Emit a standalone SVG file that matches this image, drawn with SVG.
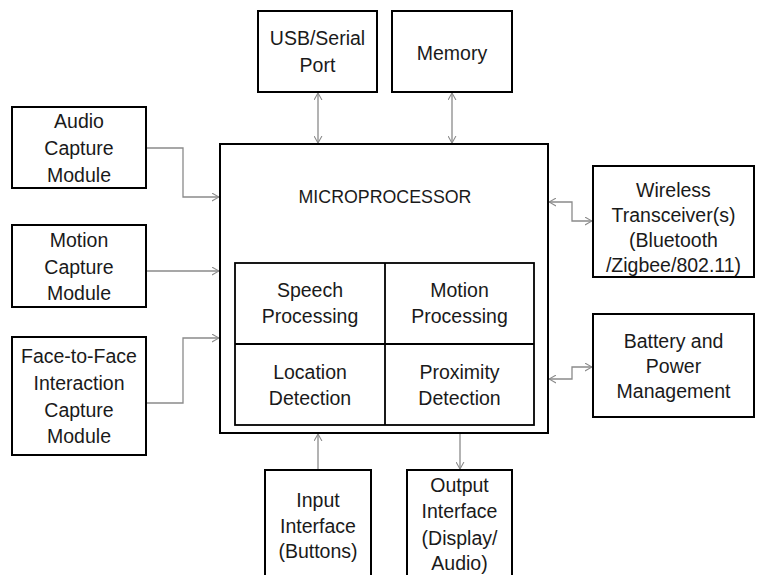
<svg xmlns="http://www.w3.org/2000/svg" width="757" height="575" viewBox="0 0 757 575">
<style>
.box{fill:#fff;stroke:#000;stroke-width:2}
.div{fill:none;stroke:#000;stroke-width:1.8}
.t{font-family:"Liberation Sans",Arial,sans-serif;font-size:19.5px;fill:#1a1a1a;text-anchor:middle}
.mp{font-size:17.8px}
.c{fill:none;stroke:#8a8a8a;stroke-width:1.3}
</style>
<defs>
<marker id="ah" viewBox="0 0 8 10" refX="8" refY="5" markerWidth="7" markerHeight="9" markerUnits="userSpaceOnUse" orient="auto-start-reverse">
<path d="M0,0.5 L8,5 L0,9.5" fill="none" stroke="#8a8a8a" stroke-width="1.2"/>
</marker>
</defs>
<rect width="757" height="575" fill="#fff"/>
<g id="connectors">
<line class="c" x1="318" y1="93" x2="318" y2="143" marker-start="url(#ah)" marker-end="url(#ah)"/>
<line class="c" x1="452" y1="93" x2="452" y2="143" marker-start="url(#ah)" marker-end="url(#ah)"/>
<polyline class="c" points="147,148 183,148 183,197 219,197" marker-end="url(#ah)"/>
<line class="c" x1="147" y1="271" x2="219" y2="271" marker-end="url(#ah)"/>
<polyline class="c" points="147,403 183,403 183,338 219,338" marker-end="url(#ah)"/>
<polyline class="c" points="549,202 572,202 572,221 592,221" marker-start="url(#ah)" marker-end="url(#ah)"/>
<polyline class="c" points="549,379 572,379 572,367 592,367" marker-start="url(#ah)" marker-end="url(#ah)"/>
<line class="c" x1="318" y1="469" x2="318" y2="434" marker-end="url(#ah)"/>
<line class="c" x1="460" y1="434" x2="460" y2="469" marker-end="url(#ah)"/>
</g>
<g id="usb">
<rect class="box" x="258" y="11" width="119" height="81"/>
<text class="t" x="317.5" y="45">USB/Serial</text>
<text class="t" x="317.5" y="72">Port</text>
</g>
<g id="memory">
<rect class="box" x="392" y="11" width="120" height="81"/>
<text class="t" x="452" y="60">Memory</text>
</g>
<g id="audio">
<rect class="box" x="12" y="107" width="134" height="81"/>
<text class="t" x="79" y="128">Audio</text>
<text class="t" x="79" y="155">Capture</text>
<text class="t" x="79" y="182">Module</text>
</g>
<g id="motion">
<rect class="box" x="12" y="225" width="134" height="82"/>
<text class="t" x="79" y="247">Motion</text>
<text class="t" x="79" y="274">Capture</text>
<text class="t" x="79" y="300">Module</text>
</g>
<g id="face">
<rect class="box" x="12" y="337" width="134" height="118"/>
<text class="t" x="79" y="363">Face-to-Face</text>
<text class="t" x="79" y="390">Interaction</text>
<text class="t" x="79" y="417">Capture</text>
<text class="t" x="79" y="443">Module</text>
</g>
<g id="microprocessor">
<rect class="box" x="220" y="144" width="328" height="289"/>
<text class="t mp" x="385" y="203">MICROPROCESSOR</text>
</g>
<g id="modules">
<rect class="div" x="235" y="263" width="299" height="162"/>
<line class="div" x1="385" y1="263" x2="385" y2="425"/>
<line class="div" x1="235" y1="344" x2="534" y2="344"/>
</g>
<g id="speech">
<text class="t" x="310" y="297">Speech</text>
<text class="t" x="310" y="323">Processing</text>
</g>
<g id="motionproc">
<text class="t" x="459.5" y="297">Motion</text>
<text class="t" x="459.5" y="323">Processing</text>
</g>
<g id="location">
<text class="t" x="310" y="379">Location</text>
<text class="t" x="310" y="405">Detection</text>
</g>
<g id="proximity">
<text class="t" x="459.5" y="379">Proximity</text>
<text class="t" x="459.5" y="405">Detection</text>
</g>
<g id="wireless">
<rect class="box" x="593" y="166" width="161" height="111"/>
<text class="t" x="673.5" y="197">Wireless</text>
<text class="t" x="673.5" y="222">Transceiver(s)</text>
<text class="t" x="673.5" y="247">(Bluetooth</text>
<text class="t" x="673.5" y="272">/Zigbee/802.11)</text>
</g>
<g id="battery">
<rect class="box" x="593" y="314" width="161" height="103"/>
<text class="t" x="673.5" y="348">Battery and</text>
<text class="t" x="673.5" y="373">Power</text>
<text class="t" x="673.5" y="398">Management</text>
</g>
<g id="input">
<rect class="box" x="265" y="470" width="106" height="120"/>
<text class="t" x="318" y="507">Input</text>
<text class="t" x="318" y="533">Interface</text>
<text class="t" x="318" y="558">(Buttons)</text>
</g>
<g id="output">
<rect class="box" x="407" y="470" width="105" height="120"/>
<text class="t" x="459.5" y="492">Output</text>
<text class="t" x="459.5" y="518">Interface</text>
<text class="t" x="459.5" y="545">(Display/</text>
<text class="t" x="459.5" y="570">Audio)</text>
</g>
</svg>
